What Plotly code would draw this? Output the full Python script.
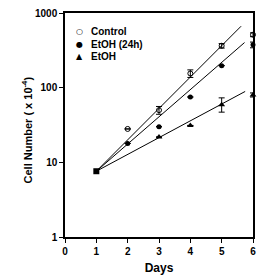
import plotly.graph_objects as go

start_day = [1]
start_value = [7.6]

days = [2, 3, 4, 5, 6]
control = [28, 50, 155, 364, 512]
control_err = [0, 6, 18, 25, 30]
etoh24_days = [2, 3, 4, 5, 6]
etoh24 = [17.9, 30, 75, 197, 375]
etoh24_err = [0, 0, 0, 0, 33]
etoh_days = [3, 4, 5, 6]
etoh = [21.8, 31.2, 59, 80]
etoh_err_plus = [0, 0, 14, 5]
etoh_err_minus = [0, 0, 12, 5]

fit_ctrl_x = [1, 5.62]
fit_ctrl_y = [7.6, 665]
fit_e24_x = [1, 5.73]
fit_e24_y = [7.6, 402]
fit_e_x = [1, 5.75]
fit_e_y = [7.6, 89]

x_ticks = [0, 1, 2, 3, 4, 5, 6]
y_ticks = [1, 10, 100, 1000]
legend_names = ["Control", "EtOH (24h)", "EtOH"]
legend_glyphs = ["○", "●", "▲"]
y_title = "Cell Number ( x 10<sup>-4</sup>)"

FONT = "Liberation Sans"
fig = go.Figure()
for fx, fy in [(fit_ctrl_x, fit_ctrl_y), (fit_e24_x, fit_e24_y), (fit_e_x, fit_e_y)]:
    fig.add_trace(go.Scatter(x=fx, y=fy, mode="lines", line=dict(color="black", width=1),
                             showlegend=False, hoverinfo="skip"))

fig.add_trace(go.Scatter(x=start_day, y=start_value, mode="markers", showlegend=False,
                         marker=dict(symbol="square", size=6, color="black")))
fig.add_trace(go.Scatter(
    x=days, y=control, mode="markers", name="Control", showlegend=False, cliponaxis=False,
    marker=dict(symbol="circle-open", size=5, color="black", line=dict(color="black", width=1)),
    error_y=dict(type="data", array=control_err, color="black", thickness=1, width=3)))
fig.add_trace(go.Scatter(
    x=etoh24_days, y=etoh24, mode="markers", name="EtOH (24h)", showlegend=False, cliponaxis=False,
    marker=dict(symbol="circle", size=5, color="black"),
    error_y=dict(type="data", array=etoh24_err, color="black", thickness=1, width=3)))
fig.add_trace(go.Scatter(
    x=etoh_days, y=etoh, mode="markers", name="EtOH", showlegend=False, cliponaxis=False,
    marker=dict(symbol="triangle-up", size=6, color="black"),
    error_y=dict(type="data", symmetric=False, array=etoh_err_plus, arrayminus=etoh_err_minus,
                 color="black", thickness=1, width=3)))

legend_rows_y = [0.916, 0.861, 0.806]
for g, n, ry in zip(legend_glyphs, legend_names, legend_rows_y):
    fig.add_annotation(xref="paper", yref="paper", x=0.0745, y=ry, xanchor="center", yanchor="middle",
                       text=g, showarrow=False, font=dict(family="DejaVu Sans", size=8, color="black"))
    fig.add_annotation(xref="paper", yref="paper", x=0.125, y=ry, xanchor="left", yanchor="middle",
                       text=f"<b>{n}</b>", showarrow=False, font=dict(family=FONT, size=10, color="black"))

fig.add_annotation(xref="paper", yref="paper", x=-0.197, y=0.48, xanchor="center", yanchor="middle",
                   text=f"<b>{y_title}</b>", textangle=-90, showarrow=False,
                   font=dict(family=FONT, size=11, color="black"))

fig.update_layout(
    width=280, height=280,
    margin=dict(l=65, r=27, t=7, b=36),
    paper_bgcolor="white", plot_bgcolor="white",
    font=dict(family=FONT, size=10, color="black"),
    showlegend=False,
    xaxis=dict(range=[0, 6], tickvals=x_ticks, ticktext=[f"<b>{v}</b>" for v in x_ticks],
               showgrid=False, zeroline=False,
               showline=True, linecolor="black", linewidth=1.5, mirror=True,
               ticks="outside", ticklen=4, tickwidth=1, tickcolor="black",
               tickfont=dict(family=FONT, size=10),
               title=dict(text="<b>Days</b>", font=dict(family=FONT, size=12), standoff=8)),
    yaxis=dict(type="log", range=[0, 3], tickvals=y_ticks,
               ticktext=[f"<b>{v}</b>" for v in y_ticks], showgrid=False, zeroline=False,
               showline=True, linecolor="black", linewidth=1.5, mirror=True,
               ticks="outside", ticklen=4, tickwidth=1, tickcolor="black",
               tickfont=dict(family=FONT, size=10)),
)
fig.write_html("out.html")
